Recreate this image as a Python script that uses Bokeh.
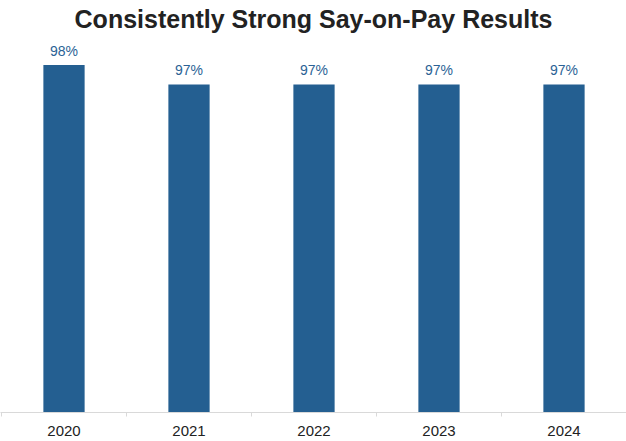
from bokeh.plotting import figure
from bokeh.models import Range1d, FixedTicker, ColumnDataSource
from bokeh.core.properties import value
from bokeh.embed import file_html
from bokeh.resources import INLINE

# Data
years = ["2020", "2021", "2022", "2023", "2024"]
support = [98, 97, 97, 97, 97]
title_text = "Consistently Strong Say-on-Pay Results"

BAR_COLOR = "#245F91"
LABEL_COLOR = "#2B6295"
TEXT_COLOR = "#222222"
AXIS_COLOR = "#D9D9D9"

W, H = 626, 441
y_base = 80
px_per_unit = 19.3
bottom_area = 29
frame_h = H - bottom_area
xs = [i + 0.5 for i in range(len(years))]

src = ColumnDataSource(dict(
    x=xs,
    top=support,
    lbl=[f"{v}%" for v in support],
))

x0 = -0.008
p = figure(
    width=W, height=H,
    x_range=Range1d(x0, x0 + W / 125),
    y_range=Range1d(y_base, y_base + frame_h / px_per_unit),
    output_backend="svg", toolbar_location=None,
    min_border_left=0, min_border_right=0, min_border_top=0, min_border_bottom=bottom_area,
)
p.outline_line_color = None
p.xgrid.grid_line_color = None
p.ygrid.grid_line_color = None
p.yaxis.visible = False
p.background_fill_color = "white"
p.border_fill_color = "white"

p.vbar(x="x", top="top", bottom=y_base, width=0.33, source=src,
       fill_color=BAR_COLOR, line_color=None)

p.text(x="x", y="top", text="lbl", source=src, y_offset=-6,
       text_align="center", text_baseline="bottom",
       text_font=value("Liberation Sans"), text_font_size="14px",
       text_color=LABEL_COLOR)

# Title drawn inside the plot area
title_x = (p.x_range.start + p.x_range.end) / 2
title_y = y_base + (frame_h - 18) / px_per_unit
p.text(x=[title_x], y=[title_y], text=[title_text],
       text_align="center", text_baseline="middle",
       text_font=value("Liberation Sans"), text_font_size="25px",
       text_font_style="bold", text_color=TEXT_COLOR)

ax = p.xaxis[0]
ax.ticker = FixedTicker(ticks=xs, minor_ticks=list(range(len(years) + 1)))
ax.major_label_overrides = {x: y for x, y in zip(xs, years)}
ax.major_tick_line_color = None
ax.major_tick_in = 0
ax.major_tick_out = 0
ax.minor_tick_line_color = AXIS_COLOR
ax.minor_tick_in = 0
ax.minor_tick_out = 4
ax.axis_line_color = AXIS_COLOR
ax.major_label_standoff = 9
ax.major_label_text_font = "Liberation Sans"
ax.major_label_text_font_size = "15px"
ax.major_label_text_color = TEXT_COLOR

open("out.html", "w").write(file_html(p, INLINE))
